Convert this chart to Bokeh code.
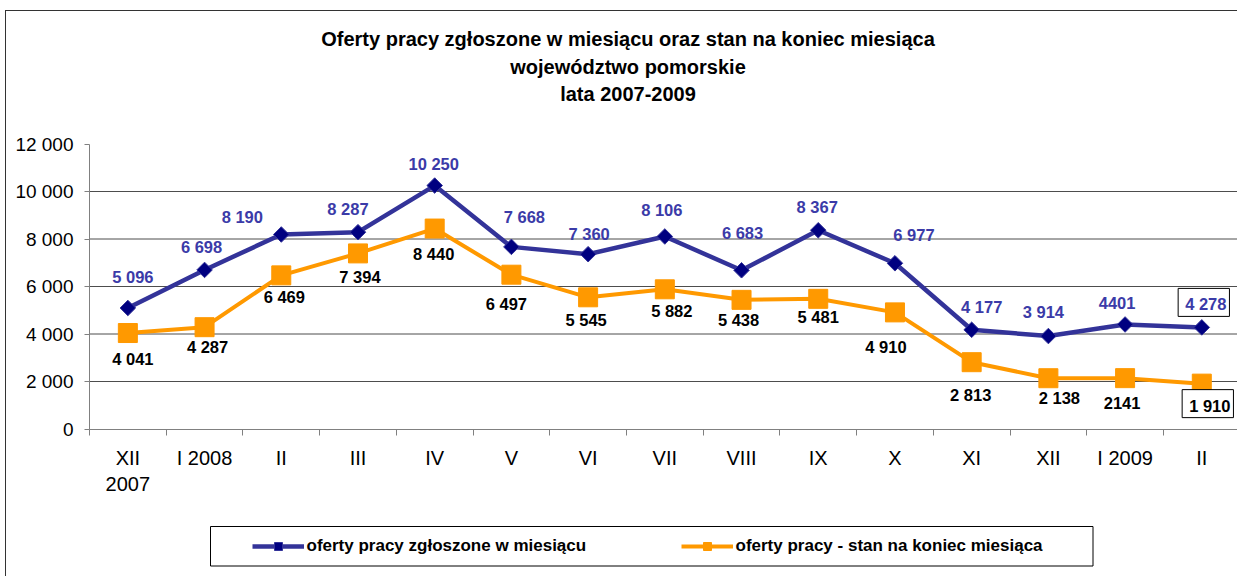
from bokeh.plotting import figure
from bokeh.models import Range1d, FixedTicker, Label, Legend, LegendItem, BoxAnnotation
from bokeh.embed import file_html
from bokeh.resources import INLINE

# ---------------- data ----------------
categories = ["XII\n2007", "I 2008", "II", "III", "IV", "V", "VI", "VII", "VIII",
              "IX", "X", "XI", "XII", "I 2009", "II"]
offers_new = [5096, 6698, 8190, 8287, 10250, 7668, 7360, 8106, 6683, 8367, 6977,
              4177, 3914, 4401, 4278]
offers_stock = [4041, 4287, 6469, 7394, 8440, 6497, 5545, 5882, 5438, 5481, 4910,
                2813, 2138, 2141, 1910]
offers_new_labels = ["5 096", "6 698", "8 190", "8 287", "10 250", "7 668", "7 360",
                     "8 106", "6 683", "8 367", "6 977", "4 177", "3 914", "4401", "4 278"]
offers_stock_labels = ["4 041", "4 287", "6 469", "7 394", "8 440", "6 497", "5 545",
                       "5 882", "5 438", "5 481", "4 910", "2 813", "2 138", "2141", "1 910"]
y_ticks = [0, 2000, 4000, 6000, 8000, 10000, 12000]
y_tick_labels = ["0", "2 000", "4 000", "6 000", "8 000", "10 000", "12 000"]
series_names = ["oferty pracy zgłoszone w miesiącu",
                "oferty pracy - stan na koniec miesiąca"]
title_lines = ["Oferty pracy zgłoszone w miesiącu oraz stan na koniec miesiąca",
               "województwo pomorskie",
               "lata 2007-2009"]

# ---------------- layout (canvas pixels) ----------------
W, H = 1232, 566
X0_PX, X_UNIT = 83.0, 76.71        # canvas x of the value axis, px per category
Y0_PX, Y_UNIT = 417.5, 0.02375     # canvas y of zero, px per unit


def px_x(px):
    return (px - X0_PX) / X_UNIT


def px_y(py):
    return (Y0_PX - py) / Y_UNIT


# label placement (pixels: dx, dy up)
new_shift = [(5, 31), (-3, 23), (-39, 17), (-10, 23), (-1, 22), (13, 30), (1, 20),
             (-3, 26), (1, 37), (-1, 23), (19, 28), (10, 23), (-5, 24), (-8, 21), (2, 25)]
stock_shift = [(5, -26), (3, -20), (3, -22), (2, -24), (-1, -25), (-5, -29), (-2, -23),
               (7, -22), (-3, -20), (0, -18), (-9, -35), (-1, -33), (11, -20), (-3, -25), (6, -20)]
title_baselines = [27.5, 55.2, 82.7]
title_center = 621.5

FONT = "Liberation Sans"
BLUE_LINE = "#333399"
BLUE_MARK = "#000080"
BLUE_TEXT = "#3b3ba8"
ORANGE = "#ff9900"

n = len(categories)
xs = [i + 0.5 for i in range(n)]

p = figure(width=W, height=H,
           x_range=Range1d(px_x(0), px_x(W)), y_range=Range1d(px_y(H), px_y(0)),
           output_backend="svg", toolbar_location=None,
           min_border_left=0, min_border_right=0, min_border_top=0, min_border_bottom=0)
p.outline_line_color = None
p.background_fill_color = "white"
p.border_fill_color = "white"
p.styles = {"margin-left": "5px", "margin-top": "10px",
            "border-left": "1.5px solid #333333", "border-top": "1.5px solid #333333"}
p.xgrid.visible = False
p.ygrid.visible = False

# axes (placed at the data origin)
p.yaxis.fixed_location = 0
p.yaxis.bounds = (y_ticks[0], y_ticks[-1])
p.yaxis.ticker = FixedTicker(ticks=y_ticks)
p.yaxis.major_label_overrides = {t: l for t, l in zip(y_ticks, y_tick_labels)}
p.yaxis.major_label_text_font = FONT
p.yaxis.major_label_text_font_size = "19px"
p.yaxis.major_label_text_color = "black"
p.yaxis.axis_line_color = "#808080"
p.yaxis.major_tick_line_color = "#808080"
p.yaxis.major_tick_out = 5
p.yaxis.major_tick_in = 0
p.yaxis.minor_tick_line_color = None
p.yaxis.major_label_standoff = 11

p.xaxis.fixed_location = 0
p.xaxis.bounds = (0, n)
p.xaxis.ticker = FixedTicker(ticks=xs, minor_ticks=list(range(n + 1)))
p.xaxis.major_label_overrides = {x: c for x, c in zip(xs, categories)}
p.xaxis.major_label_text_font = FONT
p.xaxis.major_label_text_font_size = "20px"
p.xaxis.major_label_text_color = "black"
p.xaxis.axis_line_color = "#808080"
p.xaxis.major_tick_line_color = None
p.xaxis.major_tick_out = 0
p.xaxis.major_tick_in = 0
p.xaxis.minor_tick_line_color = "#808080"
p.xaxis.minor_tick_out = 6
p.xaxis.minor_tick_in = 0
p.xaxis.major_label_standoff = 12

# horizontal grid lines at the inner ticks
grid_vals = y_ticks[1:-1]
p.segment(x0=[0] * len(grid_vals), y0=grid_vals, x1=[n] * len(grid_vals), y1=grid_vals,
          line_color="#4d4d4d", line_width=1)

# series
l1 = p.line(xs, offers_new, line_color=BLUE_LINE, line_width=4.5)
s1 = p.scatter(xs, offers_new, marker="square", angle=0.785398, size=11,
               fill_color=BLUE_MARK, line_color=BLUE_LINE, line_width=1)
l2 = p.line(xs, offers_stock, line_color=ORANGE, line_width=4)
s2 = p.scatter(xs, offers_stock, marker="square", size=19,
               fill_color=ORANGE, line_color=ORANGE)

# data labels
for i in range(n):
    boxed = (i == n - 1)
    for vals, texts, shifts, color in ((offers_new, offers_new_labels, new_shift, BLUE_TEXT),
                                       (offers_stock, offers_stock_labels, stock_shift, "black")):
        kw = {}
        if boxed:
            kw = dict(border_line_color="black", border_line_width=1,
                      background_fill_color="white", padding=(7, 3, 7, 3))
        p.add_layout(Label(x=xs[i], y=vals[i], x_offset=shifts[i][0], y_offset=shifts[i][1],
                           text=texts[i], text_align="center", text_baseline="middle",
                           text_font=FONT, text_font_size="16.5px", text_font_style="bold",
                           text_color=color, **kw))

# title
for line, base in zip(title_lines, title_baselines):
    p.add_layout(Label(x=px_x(title_center), y=px_y(base), text=line,
                       text_align="center", text_baseline="alphabetic",
                       text_font=FONT, text_font_size="20px", text_font_style="bold",
                       text_color="black"))

# legend
legend = Legend(items=[LegendItem(label=series_names[0], renderers=[l1, s1]),
                       LegendItem(label=series_names[1], renderers=[l2, s2])],
                orientation="horizontal", location=(245.5, 20.8),
                padding=0, spacing=34, label_width=340, glyph_width=52, glyph_height=20,
                label_standoff=3, border_line_alpha=0, background_fill_alpha=0,
                label_text_font=FONT, label_text_font_style="bold",
                label_text_font_size="17px", label_text_color="black")
p.add_layout(legend)
p.add_layout(BoxAnnotation(left=px_x(204), right=px_x(1086.5),
                           top=px_y(515), bottom=px_y(554.5),
                           fill_alpha=0, line_color="black", line_alpha=1, line_width=1))

open("out.html", "w").write(file_html(p, INLINE))
